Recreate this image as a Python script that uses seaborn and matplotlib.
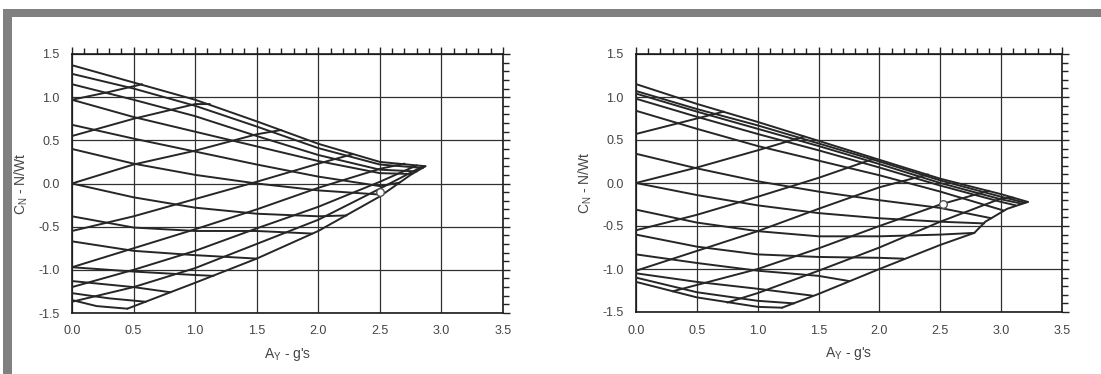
import matplotlib
matplotlib.use("Agg")
import matplotlib.pyplot as plt
from matplotlib.patches import Rectangle
from matplotlib.ticker import MultipleLocator, FormatStrFormatter
import pandas as pd
import seaborn as sns

# ---- data: (A_Y [g], C_N) vertices of every line of the moment-method mesh ----
# left chart, lines rising towards the upper boundary
left_rising_lines = [
    [(0.0, 0.97), (0.30, 1.06), (0.57, 1.15)],
    [(0.0, 0.55), (0.5, 0.75), (1.0, 0.92), (1.12, 0.92)],
    [(0.0, 0.00), (0.5, 0.22), (1.0, 0.38), (1.5, 0.57), (1.70, 0.62)],
    [(0.0, -0.55), (0.5, -0.38), (1.0, -0.18), (1.5, 0.02), (2.0, 0.23), (2.28, 0.34)],
    [(0.0, -0.97), (0.5, -0.75), (1.0, -0.53), (1.5, -0.30), (2.0, -0.05), (2.5, 0.17), (2.70, 0.23)],
    [(0.0, -1.20), (0.5, -1.00), (1.0, -0.78), (1.5, -0.52), (2.0, -0.27), (2.5, 0.02), (2.80, 0.21)],
    [(0.0, -1.37), (0.5, -1.20), (1.0, -0.98), (1.5, -0.70), (2.0, -0.42), (2.5, -0.06), (2.85, 0.20)],
    [(0.45, -1.45), (1.0, -1.15), (1.5, -0.87), (2.0, -0.55), (2.5, -0.15), (2.75, 0.10), (2.87, 0.20)],
]
# left chart, lines falling towards the lower boundary
left_falling_lines = [
    [(0.0, 1.37), (0.5, 1.17), (1.0, 0.97), (1.5, 0.72), (2.0, 0.46), (2.5, 0.25), (2.87, 0.20)],
    [(0.0, 1.27), (0.5, 1.10), (1.0, 0.90), (1.5, 0.66), (2.0, 0.41), (2.5, 0.22), (2.85, 0.18)],
    [(0.0, 1.15), (0.5, 0.97), (1.0, 0.78), (1.5, 0.55), (2.0, 0.33), (2.5, 0.16), (2.80, 0.14)],
    [(0.0, 0.97), (0.5, 0.77), (1.0, 0.60), (1.5, 0.43), (2.0, 0.26), (2.5, 0.12), (2.76, 0.11)],
    [(0.0, 0.68), (0.5, 0.52), (1.0, 0.37), (1.5, 0.22), (2.0, 0.08), (2.5, -0.03), (2.66, 0.01)],
    [(0.0, 0.40), (0.5, 0.23), (1.0, 0.10), (1.5, 0.00), (2.0, -0.08), (2.52, -0.13)],
    [(0.0, 0.00), (0.5, -0.16), (1.0, -0.28), (1.5, -0.35), (2.0, -0.38), (2.23, -0.37)],
    [(0.0, -0.38), (0.5, -0.51), (1.0, -0.55), (1.5, -0.55), (1.95, -0.58)],
    [(0.0, -0.67), (0.5, -0.78), (1.0, -0.83), (1.5, -0.87)],
    [(0.0, -0.97), (0.5, -1.02), (1.0, -1.06), (1.15, -1.07)],
    [(0.0, -1.13), (0.5, -1.20), (0.80, -1.26)],
    [(0.0, -1.27), (0.30, -1.33), (0.60, -1.37)],
    [(0.0, -1.35), (0.20, -1.42), (0.45, -1.45)],
]
# right chart, rising lines
right_rising_lines = [
    [(0.0, 0.57), (0.5, 0.75), (0.72, 0.83)],
    [(0.0, 0.00), (0.5, 0.18), (1.0, 0.38), (1.38, 0.54)],
    [(0.0, -0.55), (0.5, -0.37), (1.0, -0.16), (1.5, 0.06), (1.95, 0.28)],
    [(0.0, -1.02), (0.5, -0.79), (1.0, -0.56), (1.5, -0.30), (2.0, -0.05), (2.40, 0.10)],
    [(0.30, -1.26), (1.0, -1.00), (1.5, -0.76), (2.0, -0.50), (2.5, -0.25), (2.90, -0.09)],
    [(0.75, -1.39), (1.0, -1.28), (1.5, -1.02), (2.0, -0.75), (2.5, -0.45), (3.0, -0.18), (3.10, -0.17)],
    [(1.20, -1.45), (1.5, -1.29), (2.0, -1.00), (2.5, -0.72), (2.78, -0.58), (2.87, -0.45),
     (3.05, -0.30), (3.22, -0.22)],
]
# right chart, falling lines
right_falling_lines = [
    [(0.0, 1.15), (0.5, 0.92), (1.0, 0.71), (1.5, 0.49), (2.0, 0.27), (2.5, 0.05), (3.0, -0.13), (3.22, -0.22)],
    [(0.0, 1.07), (0.5, 0.86), (1.0, 0.67), (1.5, 0.46), (2.0, 0.25), (2.5, 0.03), (3.0, -0.16), (3.20, -0.23)],
    [(0.0, 1.04), (0.5, 0.83), (1.0, 0.63), (1.5, 0.43), (2.0, 0.22), (2.5, 0.00), (3.0, -0.19), (3.17, -0.24)],
    [(0.0, 0.98), (0.5, 0.77), (1.0, 0.57), (1.5, 0.38), (2.0, 0.18), (2.5, -0.03), (3.0, -0.22), (3.12, -0.26)],
    [(0.0, 0.84), (0.5, 0.63), (1.0, 0.43), (1.5, 0.26), (2.0, 0.09), (2.5, -0.10), (3.02, -0.32)],
    [(0.0, 0.34), (0.5, 0.17), (1.0, 0.02), (1.5, -0.10), (2.0, -0.20), (2.5, -0.29), (2.92, -0.41)],
    [(0.0, 0.00), (0.5, -0.14), (1.0, -0.26), (1.5, -0.35), (2.0, -0.41), (2.5, -0.45), (2.86, -0.47)],
    [(0.0, -0.31), (0.5, -0.46), (1.0, -0.56), (1.5, -0.62), (2.0, -0.62), (2.5, -0.60), (2.78, -0.58)],
    [(0.0, -0.60), (0.5, -0.74), (1.0, -0.83), (1.5, -0.86), (2.0, -0.87), (2.20, -0.88)],
    [(0.0, -0.83), (0.5, -0.93), (1.0, -1.02), (1.5, -1.08), (1.75, -1.14)],
    [(0.0, -1.05), (0.5, -1.15), (1.0, -1.23), (1.45, -1.31)],
    [(0.0, -1.10), (0.5, -1.27), (1.0, -1.37), (1.30, -1.40)],
    [(0.0, -1.15), (0.5, -1.33), (1.0, -1.44), (1.20, -1.45)],
]
# operating point circled on each chart
left_marker = (2.50, -0.10)
right_marker = (2.52, -0.24)

x_ticks = [0.0, 0.5, 1.0, 1.5, 2.0, 2.5, 3.0, 3.5]
y_ticks = [-1.5, -1.0, -0.5, 0.0, 0.5, 1.0, 1.5]
x_label = "A$_Y$ - g's"
y_label = "C$_N$ - N/Wt"

LINE_COLOR = "#262626"
TEXT_COLOR = "#444444"


def lines_frame(rising, falling):
    rows = []
    for tag, family in (("r", rising), ("f", falling)):
        for k, pts in enumerate(family):
            for ay, cn in pts:
                rows.append((f"{tag}{k}", ay, cn))
    return pd.DataFrame(rows, columns=["line", "ay", "cn"])


def draw_panel(ax, rising, falling, marker):
    df = lines_frame(rising, falling)
    sns.lineplot(data=df, x="ay", y="cn", units="line", estimator=None, sort=False,
                 color=LINE_COLOR, linewidth=1.4, legend=False, ax=ax, zorder=3)
    ax.scatter([marker[0]], [marker[1]], s=30, facecolor="white",
               edgecolor="#555555", linewidth=1.0, zorder=5)

    ax.set_xlim(0, 3.5)
    ax.set_ylim(-1.5, 1.5)
    ax.set_xticks(x_ticks)
    ax.set_yticks(y_ticks)
    ax.xaxis.set_major_formatter(FormatStrFormatter("%.1f"))
    ax.yaxis.set_major_formatter(FormatStrFormatter("%.1f"))
    ax.xaxis.set_minor_locator(MultipleLocator(0.1))
    ax.yaxis.set_minor_locator(MultipleLocator(0.1))
    ax.tick_params(which="both", direction="out", top=True, right=True,
                   color="#222222", width=1.0)
    ax.tick_params(which="major", length=5, labelsize=9, labelcolor=TEXT_COLOR, pad=4)
    ax.tick_params(which="minor", length=4)

    ax.grid(True, which="major", color="#303030", linewidth=0.9)
    ax.set_axisbelow(True)
    for sp in ax.spines.values():
        sp.set_visible(True)
        sp.set_color("#1a1a1a")
        sp.set_linewidth(1.2)

    ax.set_xlabel(x_label, fontsize=10, color=TEXT_COLOR, labelpad=6)
    ax.set_ylabel(y_label, fontsize=10, color=TEXT_COLOR, labelpad=6)


sns.set_theme(style="white")
plt.rcParams["font.family"] = ["Liberation Sans", "DejaVu Sans"]
plt.rcParams["mathtext.fontset"] = "custom"
plt.rcParams["mathtext.rm"] = "Liberation Sans"
plt.rcParams["mathtext.it"] = "Liberation Sans"

fig = plt.figure(figsize=(11.01, 3.74), dpi=100)
fig.patch.set_facecolor("white")

ax_left = fig.add_axes([72 / 1101, 1 - 313 / 374, (503 - 72) / 1101, (313 - 54) / 374])
ax_right = fig.add_axes([636 / 1101, 1 - 312 / 374, (1062 - 636) / 1101, (312 - 54) / 374])

draw_panel(ax_left, left_rising_lines, left_falling_lines, left_marker)
draw_panel(ax_right, right_rising_lines, right_falling_lines, right_marker)

# grey frame along the top and left edge of the page
fig.add_artist(Rectangle((3 / 1101, 1 - 17 / 374), 1 - 3 / 1101, 8 / 374,
                         transform=fig.transFigure, facecolor="#808080", edgecolor="none"))
fig.add_artist(Rectangle((3 / 1101, 0), 9 / 1101, 1 - 9 / 374,
                         transform=fig.transFigure, facecolor="#808080", edgecolor="none"))

fig.savefig("out.png", dpi=100, facecolor="white")
